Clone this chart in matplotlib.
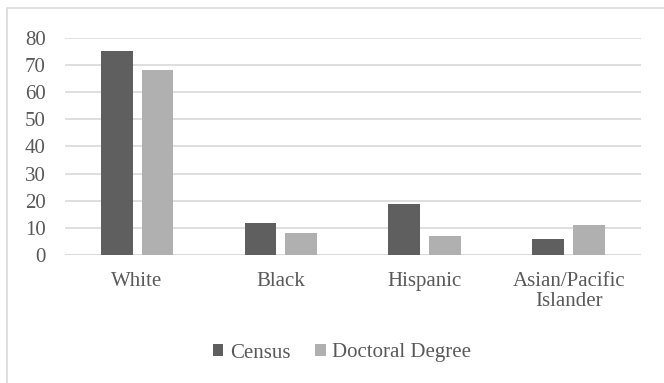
import matplotlib.pyplot as plt
import numpy as np
from matplotlib.patches import Rectangle

categories = ['White', 'Black', 'Hispanic', 'Asian/Pacific\nIslander']
census = [75, 12, 19, 6]
doctoral = [68, 8, 7, 11]
series_names = ['Census', 'Doctoral Degree']

plt.rcParams['font.family'] = ['Liberation Serif', 'DejaVu Serif']
text_color = '#595959'
fs = 15

fig = plt.figure(figsize=(6.64, 3.83), dpi=100)
ax = fig.add_axes([0.098, 0.334, 0.867, 0.567])

# light frame round the chart area (right and bottom edges fall off the picture)
fig.patches.append(Rectangle((7 / 664, -0.1), 1.2, 1 - 8.5 / 383 + 0.1,
                             transform=fig.transFigure, fill=False,
                             edgecolor='#d9d9d9', linewidth=1.2))

x = np.arange(len(categories))
w = 0.222
gap = 0.0625
ax.bar(x - (w + gap) / 2, census, width=w, color='#5f5f5f', label=series_names[0], zorder=3)
ax.bar(x + (w + gap) / 2, doctoral, width=w, color='#b0b0b0', label=series_names[1], zorder=3)

ax.set_xlim(-0.5, len(categories) - 0.5)
ax.set_ylim(0, 80)
ax.set_yticks(np.arange(0, 81, 10))
ax.yaxis.grid(True, color='#d9d9d9', linewidth=1.2, zorder=0)
for s in ax.spines.values():
    s.set_visible(False)
ax.axhline(0, color='#d9d9d9', linewidth=1.2, zorder=2)

ax.set_xticks(x)
ax.set_xticklabels(categories, fontsize=fs, color=text_color, linespacing=1.12)
ax.tick_params(axis='y', labelsize=fs, labelcolor=text_color, length=0, pad=14)
ax.tick_params(axis='x', length=0, pad=12)

fig.legend(loc='center', bbox_to_anchor=(0.515, 1 - 353 / 383), ncol=2, frameon=False,
           fontsize=fs, labelcolor=text_color, handlelength=0.5, handleheight=0.5,
           handletextpad=0.3, columnspacing=1.2)

fig.savefig('out.png', dpi=100)
